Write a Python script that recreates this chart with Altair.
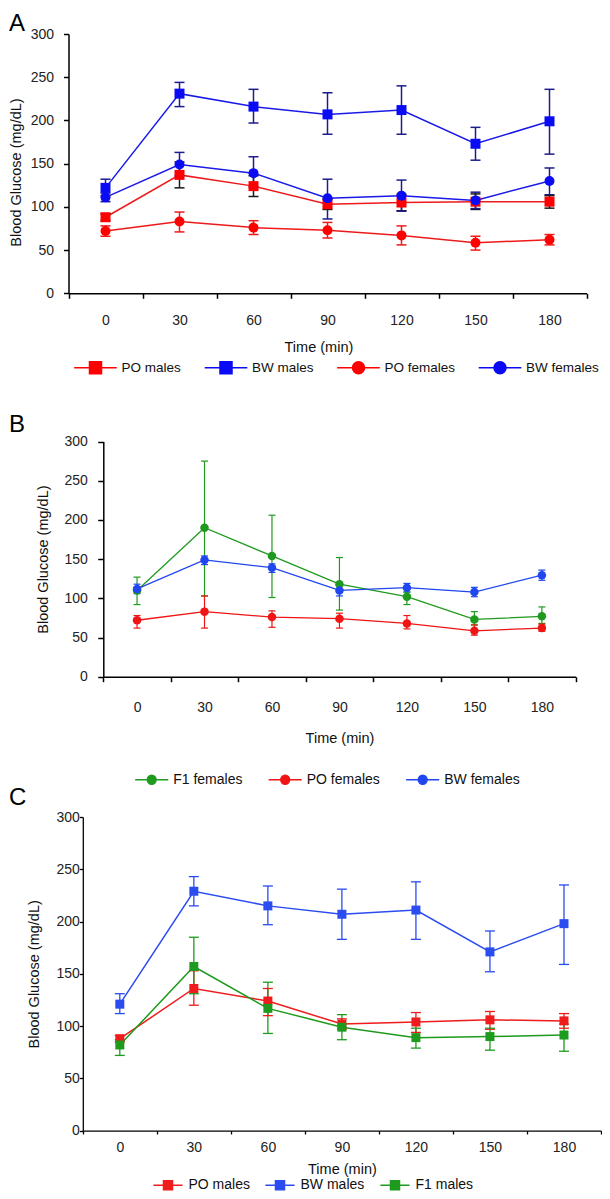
import altair as alt
import pandas as pd

FONT = "Liberation Sans"

times = ["0", "30", "60", "90", "120", "150", "180"]
tnum = [0, 30, 60, 90, 120, 150, 180]
yticks = [0, 50, 100, 150, 200, 250, 300]

# ---------------- Panel A ----------------
a_series = ["PO males", "BW males", "PO females", "BW females"]
a_po_m = [88, 137, 124, 103, 105, 106, 106]
a_po_m_lo = [84, 122, 112, 97, 95.5, 97, 98.5]
a_po_m_hi = [92, 152, 136, 109, 114.5, 115, 113]
a_bw_m = [122, 231, 216, 207, 212, 173, 199]
a_bw_m_lo = [113, 216, 197, 184, 184, 154, 161]
a_bw_m_hi = [132, 244, 236, 232, 240, 192, 236]
a_po_f = [72, 83, 76, 73, 67, 58.5, 62]
a_po_f_lo = [66, 71, 68, 64, 56, 50, 56]
a_po_f_hi = [78, 94, 84, 82, 78, 66, 68]
a_bw_f = [111, 149, 139, 110, 113, 107.5, 130]
a_bw_f_lo = [106, 136, 123, 86, 95, 98, 114]
a_bw_f_hi = [116, 163, 158, 132, 131, 117, 145]

# ---------------- Panel B ----------------
b_series = ["F1 females", "PO females", "BW females"]
b_f1_f = [110, 190, 154, 118, 102, 73, 77]
b_f1_f_lo = [92, 103, 101, 85, 92, 66, 68]
b_f1_f_hi = [127, 275, 206, 152, 108, 83, 89]
b_po_f = [72, 83, 76, 74, 68, 58.5, 62]
b_po_f_lo = [62, 62, 63, 62, 61, 53, 58]
b_po_f_hi = [78, 103, 84, 81, 78, 66, 67]
b_bw_f = [112, 149, 139, 110, 113.5, 108, 129.5]
b_bw_f_lo = [106, 143, 133, 103, 108, 102, 123]
b_bw_f_hi = [118, 154, 144, 117, 119, 114, 136]

# ---------------- Panel C ----------------
c_series = ["PO males", "BW males", "F1 males"]
c_po_m = [88, 136, 124, 102, 104, 106, 105]
c_po_m_lo = [85, 120, 110, 97, 94, 97, 98]
c_po_m_hi = [91, 153, 136, 107, 113, 114, 112]
c_bw_m = [121, 229, 215, 207, 211, 171, 198]
c_bw_m_lo = [112, 215, 197, 183, 183, 152, 159]
c_bw_m_hi = [131, 243, 234, 231, 238, 191, 235]
c_f1_m = [82, 157, 117, 99, 89, 90, 91.5]
c_f1_m_lo = [72, 131, 93, 87, 79, 77, 76]
c_f1_m_hi = [87, 185, 142, 111, 98, 98, 102]

RED, BLUE = "#ff0000", "#0a0af5"


def build_df(names, means, los, his, lcol, ecol, mcol, shp):
    rows = []
    for i, n in enumerate(names):
        for j, t in enumerate(times):
            rows.append({"t": t, "tn": tnum[j], "series": n, "mean": means[i][j],
                         "lo": los[i][j], "hi": his[i][j], "lc": lcol[n],
                         "ec": ecol[n], "mc": mcol[n], "shp": shp[n]})
    return pd.DataFrame(rows)


def legend_path(shape, half):
    if shape == "square":
        return f"M{-half},0H{half}M-1,-1H1V1H-1Z"
    return f"M{-half},0H{half}M1,0A1,1,0,1,1,-1,0A1,1,0,1,1,1,0Z"


def panel(df, names, p):
    xs = alt.Scale(type="band", domain=times, range=p["xr"], paddingInner=0, paddingOuter=0)
    ys = alt.Scale(domain=[0, 300], range=p["yr"], nice=False, zero=False)
    xkw = dict(orient="bottom", offset=p["xoff"], tickBand="extent", labelAngle=0,
               title="Time (min)", tickSize=p["xtick"], labelPadding=p["xlp"],
               titlePadding=p["xtp"], grid=False, domainColor="black", tickColor="black",
               domainWidth=p["dw"], tickWidth=p["dw"], labelFontSize=14, titleFontSize=14.5,
               titleFontWeight="normal", labelColor="#222", titleColor="#111",
               labelFont=FONT, titleFont=FONT, minExtent=0)
    if "xtx" in p:
        xkw["titleX"] = p["xtx"]
    ykw = dict(orient="left", offset=p["yoff"], values=yticks, title="Blood Glucose (mg/dL)",
               tickSize=p["ytick"], labelPadding=p["ylp"], titlePadding=p["ytp"], grid=False,
               domainColor="black", tickColor="black", domainWidth=p["dw"], tickWidth=p["dw"],
               labelFontSize=14, titleFontSize=14.5, titleFontWeight="normal",
               labelColor="#222", titleColor="#111", labelFont=FONT, titleFont=FONT,
               minExtent=0)
    if "yty" in p:
        ykw["titleY"] = p["yty"]

    base = alt.Chart(df)
    x_ax = alt.X("t:N", scale=xs, axis=alt.Axis(**xkw))
    x_no = alt.X("t:N", scale=xs, axis=None)
    y_ax = alt.Y("mean:Q", scale=ys, axis=alt.Axis(**ykw))

    lines = base.mark_line(strokeWidth=p["lw"]).encode(
        x=x_ax, y=y_ax, color=alt.Color("lc:N", scale=None),
        detail="series:N", order=alt.Order("tn:Q"))
    rules = base.mark_rule(strokeWidth=p["ew"]).encode(
        x=x_no, y=alt.Y("lo:Q", scale=ys, axis=None), y2="hi:Q",
        color=alt.Color("ec:N", scale=None))
    cap_lo = base.mark_point(shape="M-1,0H1", size=p["cap"] ** 2, filled=False,
                             strokeWidth=p["ew"], opacity=1).encode(
        x=x_no, y=alt.Y("lo:Q", scale=ys, axis=None), color=alt.Color("ec:N", scale=None))
    cap_hi = base.mark_point(shape="M-1,0H1", size=p["cap"] ** 2, filled=False,
                             strokeWidth=p["ew"], opacity=1).encode(
        x=x_no, y=alt.Y("hi:Q", scale=ys, axis=None), color=alt.Color("ec:N", scale=None))
    sq = base.transform_filter("datum.shp == 'square'").mark_point(
        shape="square", filled=True, opacity=1, size=p["ms"] ** 2).encode(
        x=x_no, y=alt.Y("mean:Q", scale=ys, axis=None), color=alt.Color("mc:N", scale=None))
    ci = base.transform_filter("datum.shp == 'circle'").mark_point(
        shape="circle", filled=True, opacity=1, size=p["ms"] ** 2).encode(
        x=x_no, y=alt.Y("mean:Q", scale=ys, axis=None), color=alt.Color("mc:N", scale=None))

    lg = p["leg"]
    leg_kw = dict(orient="none", legendX=lg["x"], legendY=lg["y"], direction="horizontal",
                  columns=len(names), title=None, symbolSize=lg["r"] ** 2 * 4,
                  symbolStrokeWidth=p["lw"], symbolOpacity=1, labelFontSize=lg.get("fs", 14),
                  labelFont=FONT, labelColor="#111", labelOffset=lg["lo"],
                  columnPadding=lg["cp"], padding=0, labelBaseline="middle")
    lcolors = [lg["colors"][n] for n in names]
    lpaths = [legend_path(lg["shapes"][n], lg["half"]) for n in names]
    legend_layer = base.transform_filter("datum.mean < 0").mark_point(
        filled=True, opacity=1).encode(
        fill=alt.Fill("series:N", scale=alt.Scale(domain=names, range=lcolors),
                      legend=alt.Legend(**leg_kw)),
        stroke=alt.Stroke("series:N", scale=alt.Scale(domain=names, range=lcolors),
                          legend=alt.Legend(**leg_kw)),
        shape=alt.Shape("series:N", scale=alt.Scale(domain=names, range=lpaths),
                        legend=alt.Legend(**leg_kw)),
    )
    return [lines, rules, cap_lo, cap_hi, sq, ci, legend_layer]


W, H = 594, 1183
# ---- A
dfA = build_df(a_series,
               [a_po_m, a_bw_m, a_po_f, a_bw_f],
               [a_po_m_lo, a_bw_m_lo, a_po_f_lo, a_bw_f_lo],
               [a_po_m_hi, a_bw_m_hi, a_po_f_hi, a_bw_f_hi],
               {"PO males": "#ee1a1a", "BW males": "#1a1ae8", "PO females": "#ee1a1a", "BW females": "#1a1ae8"},
               {"PO males": "#1a1a1a", "BW males": "#1c1c8c", "PO females": "#ee1a1a", "BW females": "#1c1c8c"},
               {"PO males": RED, "BW males": BLUE, "PO females": RED, "BW females": BLUE},
               {"PO males": "square", "BW males": "square", "PO females": "circle", "BW females": "circle"})
pA = panel(dfA, a_series, dict(
    xr=[60.5, 578.5], yr=[285.3, 26], xoff=285.3 - H, yoff=-60.5,
    xtick=5, xlp=15.5, xtp=12.5, ytick=5, ylp=10, ytp=6.3, dw=1.5, xtx=310.4, yty=164,
    lw=1.5, ew=1.5, cap=10, ms=10,
    leg=dict(x=80.5, y=352.7, r=6, half=3.55, lo=19, cp=19.5, fs=13.5,
             colors={"PO males": RED, "BW males": BLUE, "PO females": RED, "BW females": BLUE},
             shapes={"PO males": "square", "BW males": "square", "PO females": "circle", "BW females": "circle"})))

# ---- B
GB, RB, BB = "#1e9a1e", "#f01414", "#2046f0"
dfB = build_df(b_series,
               [b_f1_f, b_po_f, b_bw_f],
               [b_f1_f_lo, b_po_f_lo, b_bw_f_lo],
               [b_f1_f_hi, b_po_f_hi, b_bw_f_hi],
               {"F1 females": GB, "PO females": RB, "BW females": BB},
               {"F1 females": GB, "PO females": RB, "BW females": BB},
               {"F1 females": GB, "PO females": RB, "BW females": BB},
               {"F1 females": "circle", "PO females": "circle", "BW females": "circle"})
pB = panel(dfB, b_series, dict(
    xr=[95.3, 567.6], yr=[668.7, 433.5], xoff=668.7 - H, yoff=-95.3,
    xtick=5, xlp=19, xtp=17, ytick=5.6, ylp=10.4, ytp=13.9, dw=1.5,
    lw=1.3, ew=1.2, cap=7, ms=8.5,
    leg=dict(x=136.7, y=764.3, r=4.5, half=3.67, lo=14.5, cp=22.5,
             colors={"F1 females": GB, "PO females": RB, "BW females": BB},
             shapes={"F1 females": "circle", "PO females": "circle", "BW females": "circle"})))

# ---- C
GC, RC, BC = "#1e9a1e", "#ee1c1c", "#2a4cf0"
dfC = build_df(c_series,
               [c_po_m, c_bw_m, c_f1_m],
               [c_po_m_lo, c_bw_m_lo, c_f1_m_lo],
               [c_po_m_hi, c_bw_m_hi, c_f1_m_hi],
               {"PO males": RC, "BW males": BC, "F1 males": GC},
               {"PO males": RC, "BW males": BC, "F1 males": GC},
               {"PO males": RC, "BW males": BC, "F1 males": GC},
               {"PO males": "square", "BW males": "square", "F1 males": "square"})
pC = panel(dfC, c_series, dict(
    xr=[74.8, 593], yr=[1122.7, 809], xoff=1122.7 - H, yoff=-74.8,
    xtick=3.3, xlp=6.7, xtp=7.3, ytick=3.5, ylp=0, ytp=14.6, dw=1.3,
    lw=1.5, ew=1.3, cap=10, ms=9,
    leg=dict(x=153, y=1170, r=4.5, half=3.24, lo=13.5, cp=12,
             colors={"PO males": RC, "BW males": BC, "F1 males": GC},
             shapes={"PO males": "square", "BW males": "square", "F1 males": "square"})))

one = pd.DataFrame({"k": [0]})


def letter(ch, yv, base="alphabetic"):
    return alt.Chart(one).mark_text(text=ch, font=FONT, fontSize=24, align="left",
                                    baseline=base, color="black").encode(
        x=alt.value(1), y=alt.value(yv))


layers = pA + pB + pC + [letter("A", 3.5, "top"), letter("B", 423.7), letter("C", 797)]
chart = alt.layer(*layers).resolve_scale(
    x="independent", y="independent", fill="independent", stroke="independent",
    shape="independent").resolve_axis(x="independent", y="independent").resolve_legend(
    fill="independent", stroke="independent", shape="independent").properties(
    width=W, height=H, autosize=alt.AutoSizeParams(type="none"), padding=0
).configure_view(strokeOpacity=0)

chart.save("out.html", embed_options={"renderer": "svg", "actions": False})
